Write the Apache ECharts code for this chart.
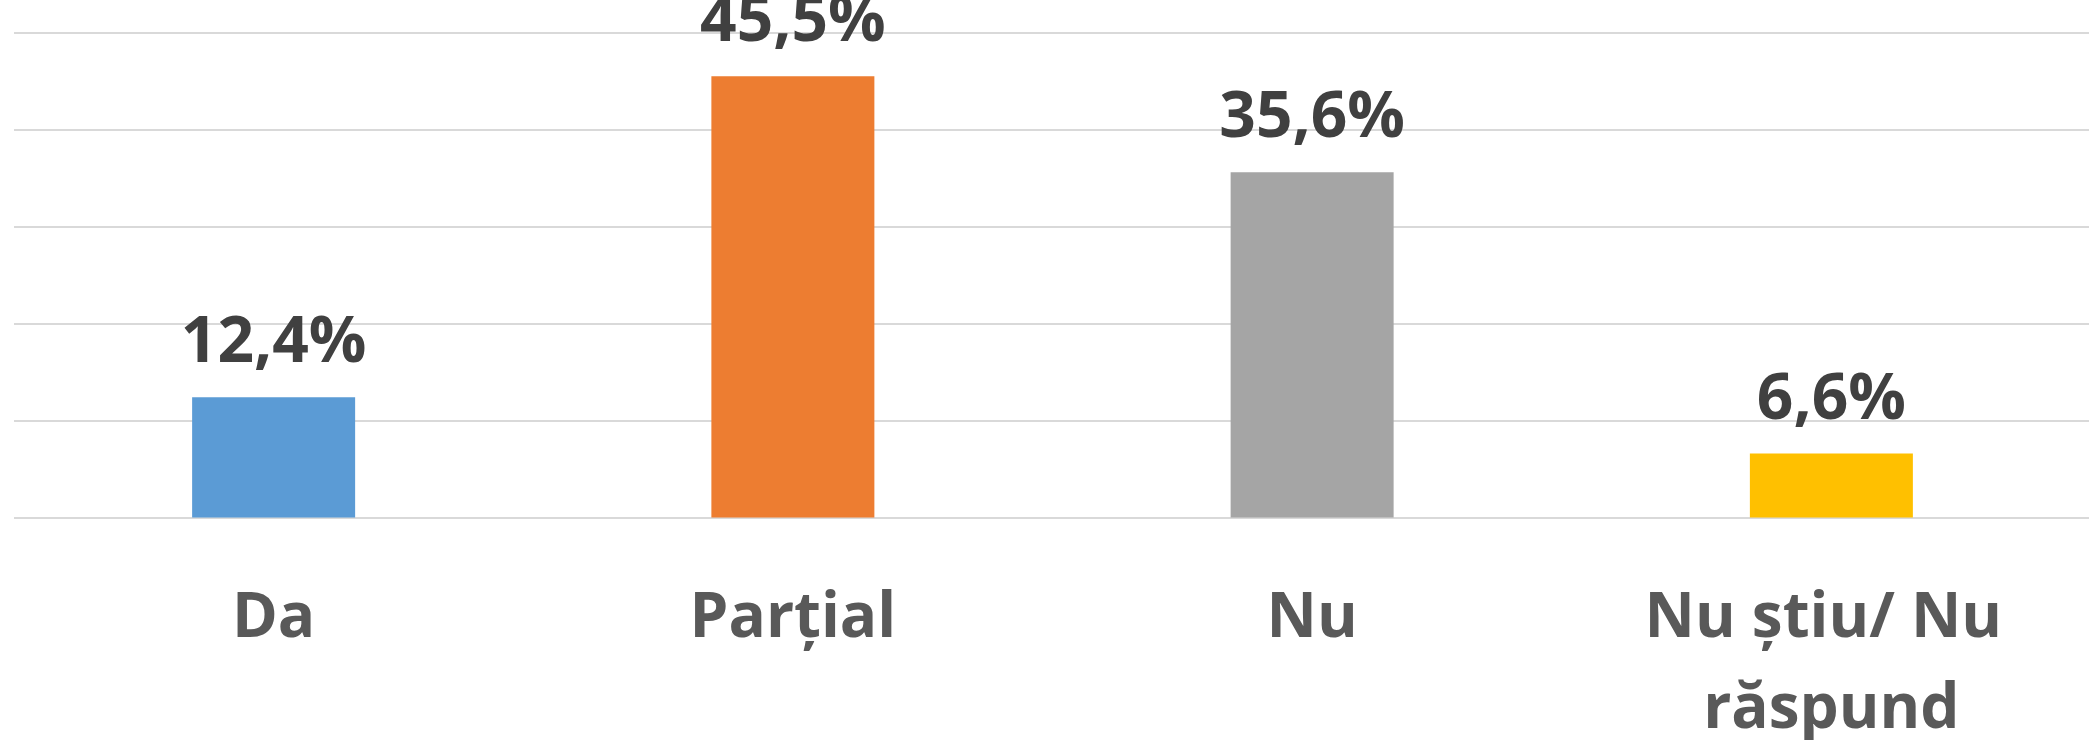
<!DOCTYPE html>
<html>
<head>
<meta charset="utf-8">
<script src="https://cdn.jsdelivr.net/npm/echarts@6/dist/echarts.min.js"></script>
<style>
  html, body { margin: 0; padding: 0; background: #fff; }
  #chart { width: 2089px; height: 740px; }
</style>
</head>
<body>
<div id="chart"></div>
<script>
// data
const categories = ['Da', 'Parțial', 'Nu', 'Nu știu/ Nu răspund'];
const values = [12.4, 45.5, 35.6, 6.6];
const barColors = ['#5B9BD5', '#ED7D31', '#A5A5A5', '#FFC000'];

const chart = echarts.init(document.getElementById('chart'));

chart.setOption({
    animation: false,
    backgroundColor: '#ffffff',
    grid: {
        left: 14, right: -2, top: 32.5, bottom: 222.5,
        containLabel: false,
        outerBoundsMode: 'none'
    },
    xAxis: {
        type: 'category',
        data: categories,
        axisLine: { show: false },
        axisTick: { show: false },
        axisLabel: {
            interval: 0,
            margin: 56,
            color: '#595959',
            fontFamily: 'Open Sans',
            fontWeight: 'bold',
            fontSize: 62,
            lineHeight: 91,
            width: 500,
            overflow: 'break'
        }
    },
    yAxis: {
        type: 'value',
        min: 0,
        max: 50,
        interval: 10,
        axisLabel: { show: false },
        axisLine: { show: false },
        axisTick: { show: false },
        splitLine: { lineStyle: { color: '#D9D9D9', width: 2 } }
    },
    series: [{
        type: 'bar',
        barWidth: 163,
        data: values.map((v, i) => ({ value: v, itemStyle: { color: barColors[i] } })),
        label: {
            show: true,
            position: 'top',
            distance: 21,
            color: '#404040',
            fontFamily: 'Open Sans',
            fontWeight: 'bold',
            fontSize: 64,
            formatter: p => p.value.toFixed(1).replace('.', ',') + '%'
        }
    }]
});
</script>
</body>
</html>
